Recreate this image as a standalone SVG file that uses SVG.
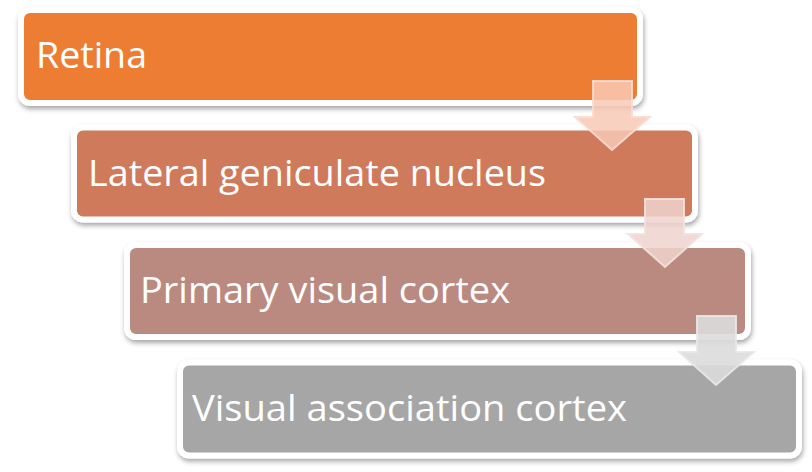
<svg xmlns="http://www.w3.org/2000/svg" width="812" height="472" viewBox="0 0 812 472">
<defs>
<filter id="sh" x="-5%" y="-10%" width="110%" height="130%">
<feDropShadow dx="1" dy="3" stdDeviation="2.5" flood-color="#000" flood-opacity="0.35"/>
</filter>
</defs>
<style>
.box{stroke:#fff;stroke-width:6;filter:url(#sh)}
.lbl{font-family:"Open Sans","Liberation Sans",sans-serif;font-size:37px;fill:#fff}
.arr{stroke-width:2;stroke-linejoin:miter}
</style>
<rect width="812" height="472" fill="#fff"/>
<g id="node1"><rect class="box" x="21" y="10" width="619" height="93" rx="9" fill="#ED7D31"/>
<text class="lbl" x="36" y="68" textLength="111" lengthAdjust="spacingAndGlyphs">Retina</text></g>
<g id="node2"><rect class="box" x="74" y="127.5" width="621" height="92" rx="9" fill="#D07A5C"/>
<text class="lbl" x="88" y="185.5" textLength="458" lengthAdjust="spacingAndGlyphs">Lateral geniculate nucleus</text></g>
<g id="node3"><rect class="box" x="127" y="245" width="621" height="92" rx="9" fill="#BA8A81"/>
<text class="lbl" x="140" y="303" textLength="370" lengthAdjust="spacingAndGlyphs">Primary visual cortex</text></g>
<g id="node4"><rect class="box" x="180" y="362.5" width="619" height="93" rx="9" fill="#A6A6A6"/>
<text class="lbl" x="192" y="420.5" textLength="435" lengthAdjust="spacingAndGlyphs">Visual association cortex</text></g>
<g id="connectors">
<path class="arr" d="M593,81 H632 V117 H650 L612,150 L575,117 H593 Z" fill="#F8C9B5" fill-opacity="0.85" stroke="#FBDCD0" stroke-opacity="0.9"/>
<path class="arr" d="M645,199 H684 V234 H702 L665,267 L628,234 H645 Z" fill="#EED3CE" fill-opacity="0.85" stroke="#F3E1DE" stroke-opacity="0.9"/>
<path class="arr" d="M697,316 H736 V352 H754 L716,385 L679,352 H697 Z" fill="#DCDBDB" fill-opacity="0.9" stroke="#E8E8E8" stroke-opacity="0.9"/>
</g>
</svg>
